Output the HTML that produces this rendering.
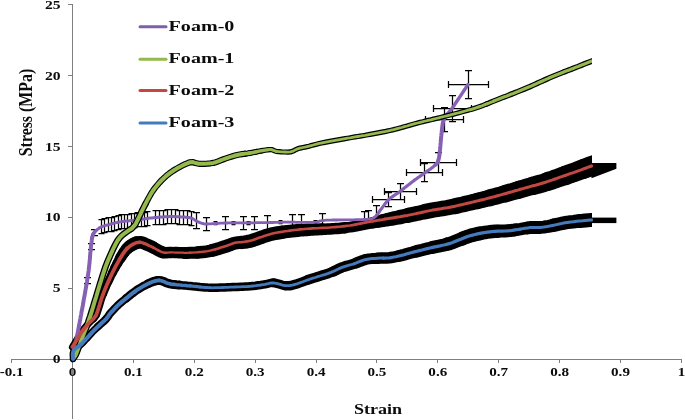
<!DOCTYPE html>
<html><head><meta charset="utf-8"><title>Stress-Strain</title>
<style>html,body{margin:0;padding:0;background:#fff;width:685px;height:420px;overflow:hidden}</style>
</head><body>
<svg width="685" height="420" viewBox="0 0 685 420" style="position:absolute;left:0;top:0;display:block">
<rect width="685" height="420" fill="#fff"/>
<g stroke="#7f7f7f" stroke-width="1" fill="none" shape-rendering="crispEdges">
<line x1="11" y1="359.5" x2="682" y2="359.5"/>
<line x1="72.5" y1="4" x2="72.5" y2="418.5"/>
<line x1="11.5" y1="359" x2="11.5" y2="362.6"/>
<line x1="72.5" y1="359" x2="72.5" y2="362.6"/>
<line x1="133.5" y1="359" x2="133.5" y2="362.6"/>
<line x1="194.5" y1="359" x2="194.5" y2="362.6"/>
<line x1="255.5" y1="359" x2="255.5" y2="362.6"/>
<line x1="316.5" y1="359" x2="316.5" y2="362.6"/>
<line x1="376.5" y1="359" x2="376.5" y2="362.6"/>
<line x1="437.5" y1="359" x2="437.5" y2="362.6"/>
<line x1="498.5" y1="359" x2="498.5" y2="362.6"/>
<line x1="559.5" y1="359" x2="559.5" y2="362.6"/>
<line x1="620.5" y1="359" x2="620.5" y2="362.6"/>
<line x1="681.5" y1="359" x2="681.5" y2="362.6"/>
<line x1="68" y1="359.5" x2="72.5" y2="359.5"/>
<line x1="68" y1="288.5" x2="72.5" y2="288.5"/>
<line x1="68" y1="217.5" x2="72.5" y2="217.5"/>
<line x1="68" y1="146.5" x2="72.5" y2="146.5"/>
<line x1="68" y1="75.5" x2="72.5" y2="75.5"/>
<line x1="68" y1="4.5" x2="72.5" y2="4.5"/>
</g>
<g font-family="'Liberation Serif', serif" font-weight="bold" fill="#0c0c0c">
<text transform="translate(11.6,376) scale(1.2,1)" font-size="12.6" text-anchor="middle">-0.1</text>
<text transform="translate(72.5,376) scale(1.2,1)" font-size="12.6" text-anchor="middle">0</text>
<text transform="translate(133.4,376) scale(1.2,1)" font-size="12.6" text-anchor="middle">0.1</text>
<text transform="translate(194.3,376) scale(1.2,1)" font-size="12.6" text-anchor="middle">0.2</text>
<text transform="translate(255.2,376) scale(1.2,1)" font-size="12.6" text-anchor="middle">0.3</text>
<text transform="translate(316.1,376) scale(1.2,1)" font-size="12.6" text-anchor="middle">0.4</text>
<text transform="translate(376.9,376) scale(1.2,1)" font-size="12.6" text-anchor="middle">0.5</text>
<text transform="translate(437.8,376) scale(1.2,1)" font-size="12.6" text-anchor="middle">0.6</text>
<text transform="translate(498.7,376) scale(1.2,1)" font-size="12.6" text-anchor="middle">0.7</text>
<text transform="translate(559.6,376) scale(1.2,1)" font-size="12.6" text-anchor="middle">0.8</text>
<text transform="translate(620.5,376) scale(1.2,1)" font-size="12.6" text-anchor="middle">0.9</text>
<text transform="translate(681.4,376) scale(1.2,1)" font-size="12.6" text-anchor="middle">1</text>
<text transform="translate(60.6,363.1) scale(1.24,1)" font-size="12.6" text-anchor="end">0</text>
<text transform="translate(60.6,292.2) scale(1.24,1)" font-size="12.6" text-anchor="end">5</text>
<text transform="translate(60.6,221.4) scale(1.24,1)" font-size="12.6" text-anchor="end">10</text>
<text transform="translate(60.6,150.5) scale(1.24,1)" font-size="12.6" text-anchor="end">15</text>
<text transform="translate(60.6,79.7) scale(1.24,1)" font-size="12.6" text-anchor="end">20</text>
<text transform="translate(60.6,8.8) scale(1.24,1)" font-size="12.6" text-anchor="end">25</text>
<text transform="translate(378.1,413.8) scale(1.29,1)" font-size="14" text-anchor="middle">Strain</text>
<text transform="translate(32.2,112.5) rotate(-90) scale(1.06,1.28)" font-size="15" text-anchor="middle">Stress (MPa)</text>
<line x1="140" y1="26.8" x2="166" y2="26.8" stroke="#7D60A8" stroke-width="3" stroke-linecap="round"/>
<text transform="translate(168.6,31.1) scale(1.34,1)" font-size="15">Foam-0</text>
<line x1="140" y1="59.2" x2="166" y2="59.2" stroke="#94B94C" stroke-width="3" stroke-linecap="round"/>
<text transform="translate(168.6,63.1) scale(1.34,1)" font-size="15">Foam-1</text>
<line x1="140" y1="90.5" x2="166" y2="90.5" stroke="#C34842" stroke-width="3" stroke-linecap="round"/>
<text transform="translate(168.6,94.5) scale(1.34,1)" font-size="15">Foam-2</text>
<line x1="140" y1="123.0" x2="166" y2="123.0" stroke="#457BBC" stroke-width="3" stroke-linecap="round"/>
<text transform="translate(168.6,127.1) scale(1.34,1)" font-size="15">Foam-3</text>
</g>
<clipPath id="ce"><rect x="0" y="0" width="592" height="420"/></clipPath>
<g fill="none" stroke-linejoin="round" stroke-linecap="round" stroke="#000" clip-path="url(#ce)"><polyline points="72.4,347.0 73.4,345.4 74.7,343.3 76.3,340.7 78.0,337.9 79.7,335.1 81.3,332.6 82.7,330.5 84.8,327.7 86.8,325.4 88.5,323.6 90.0,322.0 93.6,318.6" stroke-width="7.0"/><polyline points="93.6,318.6 96.3,315.0 96.9,313.2 97.7,310.9 98.5,308.3 99.4,305.5 100.3,302.5 101.2,299.5 102.2,296.6 103.2,293.8" stroke-width="7.5"/><polyline points="103.2,293.8 104.1,291.4 105.1,289.1 106.1,286.7 107.1,284.3 108.2,281.9" stroke-width="8.0"/><polyline points="108.2,281.9 109.2,279.6 110.3,277.3 111.3,275.1 112.3,273.0" stroke-width="8.5"/><polyline points="112.3,273.0 113.6,270.4 114.9,267.9" stroke-width="9.0"/><polyline points="114.9,267.9 116.2,265.4 117.5,263.1" stroke-width="9.5"/><polyline points="117.5,263.1 118.7,260.9 119.9,258.8" stroke-width="10.0"/><polyline points="119.9,258.8 121.0,257.0" stroke-width="10.5"/><polyline points="121.0,257.0 122.7,254.3 124.2,252.1" stroke-width="11.0"/><polyline points="124.2,252.1 125.6,250.2 127.0,248.6" stroke-width="11.5"/><polyline points="127.0,248.6 129.9,246.1" stroke-width="12.0"/><polyline points="129.9,246.1 133.0,244.3" stroke-width="12.5"/><polyline points="133.0,244.3 136.2,242.7" stroke-width="13.0"/><polyline points="136.2,242.7 140.0,242.2 142.3,242.7 144.9,243.7 147.7,244.9 150.5,246.2 153.0,247.4" stroke-width="12.5"/><polyline points="153.0,247.4 155.6,248.9 158.3,250.3 160.8,251.6 163.0,252.5" stroke-width="12.0"/><polyline points="163.0,252.5 166.0,252.8 170.0,252.4 171.9,252.4" stroke-width="11.5"/><polyline points="171.9,252.4 174.1,252.5" stroke-width="11.0"/><polyline points="174.1,252.5 176.5,252.6 179.2,252.7 181.9,252.8 184.7,252.9" stroke-width="11.5"/><polyline points="184.7,252.9 187.4,252.9 190.0,252.8 192.5,252.8 195.0,252.7 197.5,252.5" stroke-width="12.0"/><polyline points="197.5,252.5 200.0,252.3 202.5,252.1 205.0,251.8 207.5,251.4 210.0,250.9 212.6,250.3" stroke-width="12.5"/><polyline points="212.6,250.3 215.4,249.6 218.2,248.8 220.9,247.9 223.6,247.0 226.1,246.2 228.2,245.5 230.0,244.9 232.8,243.8 235.0,243.1 236.9,242.8 239.1,242.6 241.6,242.4" stroke-width="13.0"/><polyline points="241.6,242.4 244.3,242.1 247.1,241.7 250.0,241.1 252.3,240.5 254.6,239.7 257.1,238.8 259.7,237.9 262.3,237.0 264.9,236.0 267.5,235.2 270.0,234.5 272.5,233.9 275.0,233.4 277.5,233.0 280.0,232.6 282.5,232.2" stroke-width="13.5"/><polyline points="282.5,232.2 285.0,231.8 287.5,231.5 290.0,231.2 292.5,230.9 295.0,230.7 297.5,230.5" stroke-width="13.0"/><polyline points="297.5,230.5 300.0,230.3 302.5,230.2 305.0,230.0 307.5,229.9" stroke-width="12.5"/><polyline points="307.5,229.9 310.0,229.8 312.5,229.7 315.0,229.5 317.5,229.4 320.0,229.3 322.5,229.3" stroke-width="12.0"/><polyline points="322.5,229.3 325.0,229.2 327.5,229.0 330.0,228.9 332.5,228.7 335.0,228.6 337.5,228.4 340.0,228.2 342.5,227.9 345.0,227.7" stroke-width="11.5"/><polyline points="345.0,227.7 347.5,227.4 350.0,227.1 352.5,226.7 355.0,226.3 357.5,225.8 360.0,225.3 362.5,224.8 365.0,224.3 367.5,223.8 370.0,223.3 372.5,222.8" stroke-width="11.0"/><polyline points="372.5,222.8 375.0,222.3 377.5,221.8" stroke-width="11.5"/><polyline points="377.5,221.8 380.0,221.2" stroke-width="12.0"/><polyline points="380.0,221.2 382.5,220.7" stroke-width="12.5"/><polyline points="382.5,220.7 385.0,220.2 387.5,219.6" stroke-width="13.0"/><polyline points="387.5,219.6 390.0,219.1 392.5,218.6" stroke-width="13.5"/><polyline points="392.5,218.6 395.0,218.1 397.5,217.6 400.0,217.1" stroke-width="14.0"/><polyline points="400.0,217.1 402.5,216.5 405.0,216.0 407.5,215.5" stroke-width="14.5"/><polyline points="407.5,215.5 410.0,214.9 412.5,214.4 415.0,213.9 417.5,213.3 420.0,212.8 422.5,212.2 425.0,211.6" stroke-width="15.0"/><polyline points="425.0,211.6 427.5,211.1 430.0,210.6 432.5,210.1 435.0,209.7 437.5,209.3 440.0,208.9 442.5,208.5 445.0,208.1 447.5,207.7 450.0,207.2 452.5,206.7 455.0,206.2" stroke-width="15.5"/><polyline points="455.0,206.2 457.5,205.6 460.0,205.0 462.5,204.5 465.0,203.9 467.5,203.3 470.0,202.7 472.5,202.1 475.0,201.5 477.5,200.9" stroke-width="16.0"/><polyline points="477.5,200.9 480.0,200.3 482.5,199.7 485.0,199.1 487.5,198.4 490.0,197.8" stroke-width="16.5"/><polyline points="490.0,197.8 492.5,197.1 495.0,196.5 497.5,195.8 500.0,195.1 502.5,194.4 505.0,193.7" stroke-width="17.0"/><polyline points="505.0,193.7 507.5,193.0 510.0,192.3 512.5,191.6 515.1,190.8 517.8,190.1" stroke-width="17.5"/><polyline points="517.8,190.1 520.4,189.3 523.0,188.6 525.4,187.9 527.8,187.2 530.0,186.6 533.0,185.8" stroke-width="18.0"/><polyline points="533.0,185.8 535.5,185.2 537.9,184.5 540.5,183.8 543.8,182.8 545.8,182.2 547.9,181.4" stroke-width="18.5"/><polyline points="547.9,181.4 550.2,180.7 552.6,179.9 555.1,179.0 557.6,178.1 560.1,177.2 562.7,176.3 565.2,175.5" stroke-width="19.0"/><polyline points="565.2,175.5 567.6,174.6 570.1,173.7 572.8,172.8 575.5,171.8 578.3,170.8 581.1,169.8 583.7,168.8" stroke-width="19.5"/><polyline points="583.7,168.8 586.2,168.0 588.3,167.2 590.2,166.5 591.6,166.0 600.0,163.0" stroke-width="20.0"/></g>
<polygon points="590,162.9 616.4,162.9 616.4,168.8 591.5,178.3" fill="#000"/>
<g fill="none" stroke-linejoin="round" stroke-linecap="round" stroke="#000" clip-path="url(#ce)"><polyline points="73.0,359.0 72.9,356.7 72.8,353.5 73.6,350.5 75.0,348.8" stroke-width="6.5"/><polyline points="75.0,348.8 77.0,347.3 79.4,345.7 81.9,343.6 83.4,342.0 85.0,340.3 86.7,338.3" stroke-width="7.0"/><polyline points="86.7,338.3 88.5,336.3 90.3,334.3 92.1,332.3 93.8,330.5 95.9,328.5 98.1,326.4" stroke-width="7.5"/><polyline points="98.1,326.4 100.3,324.4 102.3,322.6 104.2,320.9 105.7,319.4 107.9,316.7 109.3,314.6 111.0,312.5 113.1,310.3 115.2,308.0 117.2,306.0 119.4,303.9 122.4,301.4 124.1,300.0 126.1,298.4" stroke-width="8.0"/><polyline points="126.1,298.4 128.2,296.7 130.4,294.9 132.6,293.2 134.8,291.6 136.7,290.2 139.2,288.6 141.7,287.1 144.0,285.8 146.1,284.8 148.0,283.8" stroke-width="8.5"/><polyline points="148.0,283.8 151.4,282.2 154.0,281.3 156.6,280.6 159.0,280.4 161.4,280.8 164.0,281.6 166.1,282.7 170.0,283.9 171.8,284.2 174.0,284.4 176.5,284.7 179.1,284.9" stroke-width="9.0"/><polyline points="179.1,284.9 181.9,285.2 184.7,285.4 187.4,285.7 190.0,285.9 192.5,286.2 195.0,286.4 197.5,286.7 200.0,287.0 202.5,287.2 205.0,287.4 207.5,287.6 210.0,287.7 212.5,287.8 215.0,287.7 217.5,287.7 220.0,287.6 222.5,287.5 225.0,287.4 227.5,287.3 230.0,287.2 232.5,287.1 235.1,287.0 237.7,286.9 240.3,286.8 242.9,286.7 245.4,286.6 247.7,286.5 250.0,286.3 252.9,286.0 255.6,285.7 258.2,285.3 260.7,285.0 262.9,284.6 265.0,284.3 268.1,283.6 270.5,283.0 273.3,282.8" stroke-width="8.5"/><polyline points="273.3,282.8 276.2,283.3 279.4,284.2 282.5,285.1 285.0,285.7" stroke-width="9.0"/><polyline points="285.0,285.7 289.5,285.7 292.3,285.2 296.0,284.2 298.0,283.5 300.4,282.6 302.9,281.7 305.5,280.7 308.0,279.8" stroke-width="9.5"/><polyline points="308.0,279.8 310.4,279.0 312.8,278.2 315.3,277.5 317.7,276.7 320.0,276.0 322.8,275.1 325.6,274.3 328.3,273.4 331.0,272.4 333.7,271.2" stroke-width="10.0"/><polyline points="333.7,271.2 336.4,269.9 339.2,268.6 342.0,267.4 344.3,266.6 346.7,265.9 349.2,265.2 351.6,264.5 354.0,263.8 356.4,262.9" stroke-width="10.5"/><polyline points="356.4,262.9 358.8,261.9 361.2,261.0 363.6,260.1 366.0,259.4 368.9,258.9 371.8,258.6 374.7,258.4 377.6,258.2" stroke-width="11.0"/><polyline points="377.6,258.2 380.6,258.1 383.5,258.1 386.5,258.0 389.5,257.8 392.6,257.3 395.7,256.7 398.7,256.0" stroke-width="11.5"/><polyline points="398.7,256.0 401.4,255.4 404.1,254.7 406.4,254.0 410.0,253.0 412.0,252.5 414.2,251.9 416.7,251.3" stroke-width="12.0"/><polyline points="416.7,251.3 419.3,250.6 422.0,250.0 424.7,249.3 427.4,248.6 430.0,248.0 432.5,247.4" stroke-width="12.5"/><polyline points="432.5,247.4 435.0,246.9 437.5,246.4 440.0,245.9 442.5,245.3 445.0,244.8 447.5,244.1" stroke-width="13.0"/><polyline points="447.5,244.1 450.0,243.4 452.5,242.6 455.0,241.6 457.5,240.6 460.0,239.6 462.5,238.5" stroke-width="13.5"/><polyline points="462.5,238.5 465.0,237.5 467.5,236.6 470.0,235.8 472.5,235.1 475.0,234.5 477.5,233.9 480.0,233.4" stroke-width="14.0"/><polyline points="480.0,233.4 482.5,232.9 485.0,232.5 487.5,232.1 490.0,231.8 492.5,231.5 495.0,231.3 497.5,231.2" stroke-width="13.5"/><polyline points="497.5,231.2 500.0,231.1 502.5,231.1 505.0,231.0 507.5,230.8 510.0,230.6 512.5,230.3 515.1,229.9" stroke-width="13.0"/><polyline points="515.1,229.9 517.8,229.5 520.4,229.1 523.0,228.6 525.4,228.2 527.8,227.9" stroke-width="12.5"/><polyline points="527.8,227.9 530.0,227.6 533.0,227.4 535.5,227.4 537.9,227.5 540.5,227.4 543.8,227.1 546.0,226.7 548.4,226.3 551.0,225.8 553.7,225.2" stroke-width="13.0"/><polyline points="553.7,225.2 556.5,224.6 559.3,224.0 562.1,223.4 564.9,222.8 567.6,222.4 570.4,222.0 573.4,221.7 576.5,221.3 579.6,221.0" stroke-width="13.5"/><polyline points="579.6,221.0 582.6,220.8 585.4,220.5 587.9,220.3 590.0,220.1 591.6,220.0 600.0,219.0" stroke-width="14.0"/></g>
<rect x="590" y="217.6" width="26.4" height="5.5" fill="#000"/>
<path d="M468.5,70.0V99.0M465.0,70.5h7M465.0,98.5h7M448.0,84.5H489.0M448.5,81.0v7M488.5,81.0v7M452.5,95.0V122.0M449.0,95.5h7M449.0,121.5h7M433.0,108.5H472.0M433.5,105.0v7M471.5,105.0v7M444.5,107.0V132.0M441.0,107.5h7M441.0,131.5h7M425.0,119.5H464.0M425.5,116.0v7M463.5,116.0v7M438.5,152.0V173.0M435.0,152.5h7M435.0,172.5h7M420.0,162.5H457.0M420.5,159.0v7M456.5,159.0v7M424.5,163.0V182.0M421.0,163.5h7M421.0,181.5h7M406.0,172.5H443.0M406.5,169.0v7M442.5,169.0v7M400.5,183.0V200.0M397.0,183.5h7M397.0,199.5h7M384.0,191.5H417.0M384.5,188.0v7M416.5,188.0v7M388.5,192.0V207.0M385.0,192.5h7M385.0,206.5h7M372.0,199.5H405.0M372.5,196.0v7M404.5,196.0v7M101.5,219.0V234.0M98.5,219.5h6.0M98.5,233.5h6.0M104.5,218.0V233.0M101.5,218.5h6.0M101.5,232.5h6.0M108.5,217.0V232.0M105.5,217.5h6.0M105.5,231.5h6.0M111.5,217.0V232.0M108.5,217.5h6.0M108.5,231.5h6.0M114.5,216.0V231.0M111.5,216.5h6.0M111.5,230.5h6.0M118.5,215.0V230.0M115.5,215.5h6.0M115.5,229.5h6.0M121.5,214.0V229.0M118.5,214.5h6.0M118.5,228.5h6.0M124.5,214.0V229.0M121.5,214.5h6.0M121.5,228.5h6.0M127.5,214.0V229.0M124.5,214.5h6.0M124.5,228.5h6.0M131.5,213.0V228.0M128.5,213.5h6.0M128.5,227.5h6.0M134.5,213.0V228.0M131.5,213.5h6.0M131.5,227.5h6.0M137.5,212.0V227.0M134.5,212.5h6.0M134.5,226.5h6.0M141.5,212.0V227.0M138.5,212.5h6.0M138.5,226.5h6.0M144.5,212.0V227.0M141.5,212.5h6.0M141.5,226.5h6.0M147.5,211.0V226.0M144.5,211.5h6.0M144.5,225.5h6.0M155.5,210.0V225.0M152.5,210.5h6.0M152.5,224.5h6.0M159.5,210.0V225.0M156.5,210.5h6.0M156.5,224.5h6.0M163.5,210.0V225.0M160.5,210.5h6.0M160.5,224.5h6.0M167.5,209.0V224.0M164.5,209.5h6.0M164.5,223.5h6.0M171.5,209.0V224.0M168.5,209.5h6.0M168.5,223.5h6.0M175.5,209.0V224.0M172.5,209.5h6.0M172.5,223.5h6.0M179.5,210.0V225.0M176.5,210.5h6.0M176.5,224.5h6.0M183.5,210.0V225.0M180.5,210.5h6.0M180.5,224.5h6.0M187.5,210.0V225.0M184.5,210.5h6.0M184.5,224.5h6.0M191.5,211.0V226.0M188.5,211.5h6.0M188.5,225.5h6.0M94.5,229.0V236.0M91.0,229.5h7M91.0,235.5h7M91.5,243.0V250.0M88.0,243.5h7M88.0,249.5h7M87.5,277.0V284.0M84.0,277.5h7M84.0,283.5h7M196.5,212.0V229.0M193.0,212.5h7M193.0,228.5h7M206.5,217.0V231.0M203.0,217.5h7M203.0,230.5h7M225.5,216.0V230.0M222.0,216.5h7M222.0,229.5h7M243.5,216.0V230.0M240.0,216.5h7M240.0,229.5h7M254.5,216.0V230.0M251.0,216.5h7M251.0,229.5h7M267.5,215.0V230.0M264.0,215.5h7M264.0,229.5h7M292.5,214.0V230.0M289.0,214.5h7M289.0,229.5h7M301.5,214.0V230.0M298.0,214.5h7M298.0,229.5h7M322.5,213.0V228.0M319.0,213.5h7M319.0,227.5h7M364.5,211.0V228.0M361.0,211.5h7M361.0,227.5h7M368.5,210.0V227.0M365.0,210.5h7M365.0,226.5h7M376.5,205.0V224.0M373.0,205.5h7M373.0,223.5h7M215.5,221.0V225.0M213.5,221.5h4.0M213.5,224.5h4.0M233.5,221.0V225.0M231.5,221.5h4.0M231.5,224.5h4.0M248.5,221.0V225.0M246.5,221.5h4.0M246.5,224.5h4.0M280.5,220.0V224.0M278.5,220.5h4.0M278.5,223.5h4.0M315.5,220.0V224.0M313.5,220.5h4.0M313.5,223.5h4.0" stroke="#000" stroke-width="1.25" fill="none"/>
<g fill="none" stroke-linejoin="round" stroke-linecap="round" stroke="#8560B4"><polyline points="73.0,357.0 73.2,356.2 73.3,355.3 73.5,354.3 73.7,353.3 74.0,352.1 74.2,350.9 74.5,349.6 74.7,348.2 75.0,346.7 75.3,345.2 75.6,343.7 75.9,342.1 76.2,340.5 76.5,338.8 76.9,337.2 77.2,335.4 77.5,333.7 77.9,332.0 78.2,330.2 78.5,328.5 78.8,326.8 79.2,325.0 79.5,323.3 79.8,321.7 80.1,320.0 80.4,318.6 80.6,317.2 80.9,315.7 81.2,314.3 81.4,312.8 81.7,311.2 82.0,309.7 82.3,308.1 82.6,306.6 82.9,305.0 83.2,303.4 83.4,301.8 83.7,300.2 84.0,298.5 84.3,296.9 84.6,295.3 84.9,293.7 85.2,292.2 85.4,290.6 85.7,289.0 86.0,287.5 86.2,286.0 86.5,284.5 86.7,283.0 87.0,281.6 87.2,280.2 87.4,278.8 87.6,277.5 87.8,276.2 88.0,275.0 88.3,273.0 88.6,271.0 88.8,269.1 89.0,267.3 89.2,265.5 89.4,263.7 89.6,262.0 89.7,260.4 89.9,258.8 90.0,257.2 90.1,255.8 90.2,254.3 90.3,253.0 90.5,251.7 90.6,250.4 90.7,249.2 90.8,248.1 90.9,247.0 91.2,244.3 91.5,242.3 91.7,240.7 91.8,239.6 92.0,238.5 92.2,237.5" stroke-width="4.0"/><polyline points="92.2,237.5 92.7,235.1" stroke-width="3.8000000000000003"/><polyline points="92.7,235.1 93.4,233.6" stroke-width="3.6"/><polyline points="93.4,233.6 94.4,232.2" stroke-width="3.4000000000000004"/><polyline points="94.4,232.2 95.6,231.0" stroke-width="3.2"/><polyline points="95.6,231.0 97.0,229.8 98.6,228.6 99.6,227.6 102.5,226.4 103.5,226.1 104.6,225.8 105.9,225.4 107.3,225.0 108.8,224.6 110.4,224.1 112.0,223.7 113.7,223.3 115.3,222.9 116.9,222.5 118.5,222.2 120.0,221.9 121.6,221.6 123.2,221.4 124.8,221.2 126.4,221.0 128.0,220.9 129.5,220.8 131.1,220.6 132.7,220.5 134.3,220.3 135.9,220.2 137.5,220.0 139.1,219.8 140.7,219.6 142.3,219.3 143.9,219.1 145.4,218.8 147.0,218.6 148.6,218.3 150.2,218.1 151.8,217.9 153.4,217.7 155.0,217.5 156.6,217.4 158.2,217.2 159.8,217.1 161.4,217.0 163.0,216.9 164.6,216.8 166.2,216.7 167.8,216.7 169.4,216.6 171.0,216.6 172.6,216.6 174.2,216.6 175.9,216.7 177.6,216.7 179.4,216.8 181.1,216.9 182.8,217.0 184.4,217.1 186.0,217.3 187.5,217.4 188.8,217.6 190.0,217.8 192.0,218.4 193.5,219.1 194.6,219.9 195.7,220.6 197.0,221.3 198.2,221.8 199.4,222.4 200.6,222.9 202.0,223.3 203.7,223.7 205.8,223.9 207.0,223.9" stroke-width="3.0"/><polyline points="207.0,223.9 208.2,223.9 209.5,223.9 210.8,223.8 212.3,223.7 213.8,223.6 215.4,223.5 217.0,223.4 218.8,223.3 220.8,223.2 222.8,223.1 225.0,223.0 226.2,223.0 227.5,223.0 228.8,222.9 230.2,222.9 231.7,222.9 233.2,222.9 234.7,222.9 236.3,222.9 237.9,222.8 239.5,222.8 241.1,222.8 242.8,222.8 244.4,222.8 246.1,222.8 247.7,222.8 249.4,222.8 251.0,222.8 252.6,222.8 254.1,222.8 255.7,222.7 257.2,222.7 258.6,222.7 260.0,222.7 261.7,222.7 263.4,222.6 265.1,222.6 266.7,222.6 268.3,222.6 269.9,222.5 271.5,222.5 273.0,222.5 274.5,222.4 276.0,222.4 277.5,222.4 279.0,222.3 280.5,222.3 282.0,222.3 283.5,222.2 285.0,222.2 286.5,222.2 288.0,222.2 289.6,222.2 291.3,222.2 293.0,222.2 294.7,222.2 296.4,222.3 298.1,222.3 299.8,222.3 301.5,222.4 303.2,222.4 304.8,222.4 306.4,222.5 307.9,222.5 309.4,222.5 310.8,222.5 312.1,222.5 313.4,222.4 314.5,222.4 316.6,222.2 317.8,221.9 318.6,221.6 319.4,221.2 320.4,220.9 322.2,220.6 325.0,220.3 326.0,220.2 327.2,220.2 328.5,220.2 329.9,220.1 331.4,220.1 332.9,220.0 334.6,220.0 336.3,220.0 338.0,220.0 339.8,219.9 341.6,219.9 343.4,219.9 345.2,219.9 347.0,219.9 348.8,219.8 350.6,219.8 352.4,219.8 354.0,219.8 355.7,219.7 357.2,219.7 358.7,219.7 360.1,219.6 361.4,219.6 362.6,219.6 363.6,219.5 366.6,219.3 368.7,219.2 370.2,219.1" stroke-width="2.8000000000000003"/><polyline points="370.2,219.1 371.3,218.9 372.1,218.6 372.9,218.2 374.0,217.6 375.2,216.8 376.2,215.7 377.2,214.6" stroke-width="3.0"/><polyline points="377.2,214.6 378.1,213.3 379.0,212.0 380.0,210.6 381.0,209.3 381.9,208.1 382.8,206.9 383.7,205.7 384.6,204.4 385.6,203.1 386.6,201.9 387.7,200.6 388.8,199.5 389.9,198.5 391.0,197.6 392.2,196.8 393.5,195.9 394.7,195.1 396.0,194.2 397.3,193.4 398.7,192.5 400.0,191.5 401.2,190.6 402.5,189.6 403.7,188.6 405.0,187.6 406.3,186.5 407.6,185.5 408.9,184.5 410.2,183.5 411.4,182.5 412.7,181.5 414.0,180.6 415.2,179.6 416.5,178.7 417.7,177.8 419.0,177.0 420.2,176.1 421.5,175.2 422.7,174.4 423.9,173.5 425.0,172.7 426.4,171.7 427.9,170.7 429.3,169.7 430.7,168.8 432.0,167.8 433.2,166.9 434.3,165.9 435.3,165.0" stroke-width="3.2"/><polyline points="435.3,165.0 436.5,163.8" stroke-width="3.4000000000000004"/><polyline points="436.5,163.8 437.3,162.8" stroke-width="3.6"/><polyline points="437.3,162.8 437.9,161.8" stroke-width="3.8000000000000003"/><polyline points="437.9,161.8 438.4,160.2 439.0,157.6 439.2,156.5 439.4,155.3 439.6,153.9 439.7,152.4 439.9,150.8 440.1,149.2 440.2,147.5 440.4,145.7 440.5,144.0 440.7,142.2 440.8,140.5 441.0,138.8 441.1,137.2 441.3,135.7 441.4,134.3 441.6,133.0 441.8,131.0 442.0,129.1 442.2,127.4 442.4,125.8 442.6,124.4 442.8,123.0 443.1,121.6 443.5,120.3 444.0,119.0 444.6,117.7 445.3,116.6" stroke-width="4.0"/><polyline points="445.3,116.6 446.1,115.6 446.9,114.6" stroke-width="3.8000000000000003"/><polyline points="446.9,114.6 447.9,113.6 449.0,112.4" stroke-width="3.6"/><polyline points="449.0,112.4 450.2,110.9 451.6,109.0 452.3,108.0 453.0,106.9 453.9,105.7 454.8,104.4 455.7,103.0 456.7,101.5 457.7,100.0 458.7,98.5 459.8,96.9 460.8,95.4 461.8,93.9 462.8,92.4 463.7,91.0 464.6,89.6 465.5,88.4 466.2,87.2 466.9,86.2 467.5,85.3 468.0,84.6" stroke-width="3.4000000000000004"/></g>
<g fill="none" stroke-linejoin="round" stroke-linecap="round" stroke="#000" clip-path="url(#ce)"><polyline points="73.5,358.0 75.4,355.5 76.1,353.9 76.9,351.9 77.8,349.6 78.7,347.1 79.8,344.4 80.8,341.6 81.9,338.8 82.7,336.7 83.5,334.6 84.3,332.5 85.2,330.3 86.1,328.0 87.0,325.5 88.0,322.8 89.0,319.7 90.2,316.2 90.8,314.3 91.5,312.1 92.2,309.8 93.0,307.4 93.7,304.9 94.5,302.2 95.3,299.5 96.2,296.8 97.0,294.0 97.8,291.3 98.6,288.6 99.4,285.9 100.2,283.3 101.0,280.9 101.7,278.5 102.4,276.3 103.0,274.3 103.6,272.5 104.9,268.6 106.0,265.4 107.0,262.9 107.9,260.8 108.7,258.9 109.6,256.9 110.5,254.8 111.7,252.1 112.9,249.5 114.1,247.0 115.3,244.6 116.5,242.4 117.6,240.5 119.7,237.7 121.6,235.7 123.6,234.0 126.6,231.8 129.5,229.8 131.9,228.4 134.8,225.2" stroke-width="6.6000000000000005"/><polyline points="134.8,225.2 135.8,223.5 136.9,221.4 138.1,219.0 139.3,216.5 140.6,213.8 141.8,211.1 143.1,208.6 144.3,206.2 145.6,203.7" stroke-width="6.4"/><polyline points="145.6,203.7 146.9,201.2 148.2,198.7 149.6,196.3 150.9,193.9 152.3,191.7 153.8,189.5 155.4,187.4 157.0,185.4 158.7,183.4 160.5,181.5 162.2,179.7 164.0,178.0 165.7,176.4 168.1,174.4 170.5,172.6 172.8,171.0 175.2,169.5 177.6,168.1 180.1,166.7 182.8,165.3 185.3,164.1 187.7,163.1 189.5,162.3 193.0,162.1 195.3,163.0 199.0,163.8 201.4,163.8 204.2,163.8 207.4,163.6 210.5,163.3 213.3,162.9 215.8,162.2 218.2,161.4 220.6,160.4 222.9,159.5 225.2,158.6 228.2,157.6 231.1,156.7 234.1,155.8 237.1,155.0 239.6,154.5 242.2,154.1 244.9,153.7" stroke-width="6.2"/><polyline points="244.9,153.7 247.5,153.4 250.0,153.0" stroke-width="6.0"/><polyline points="250.0,153.0 253.1,152.4 256.2,151.8" stroke-width="5.800000000000001"/><polyline points="256.2,151.8 259.2,151.2 262.0,150.7" stroke-width="5.6000000000000005"/><polyline points="262.0,150.7 265.5,150.1 268.7,149.6" stroke-width="5.4"/><polyline points="268.7,149.6 271.4,149.5 273.5,150.3 276.2,151.4 278.6,151.6 281.6,151.9 284.8,152.0 287.9,152.1 290.5,151.9 293.2,151.1 295.2,149.9 297.6,148.8 300.1,148.1 303.0,147.5 306.0,146.9 309.0,146.2 311.2,145.6 313.3,145.0 315.6,144.4 318.2,143.7 321.4,143.0 323.5,142.6 325.9,142.1 328.5,141.6 331.1,141.1 333.9,140.6 336.8,140.1 339.6,139.6 342.4,139.1 345.2,138.6 347.6,138.2 350.1,137.8 352.6,137.3 355.1,136.9 357.6,136.5 360.1,136.1 362.6,135.7 365.1,135.3 367.6,134.8 370.0,134.4 372.7,133.9 375.4,133.4 378.0,132.9 380.6,132.4 383.3,131.9 385.9,131.4 388.5,130.8 391.2,130.2 393.8,129.6 396.4,128.9 399.1,128.2 401.7,127.5 404.4,126.7 407.0,126.0 409.7,125.2 412.3,124.4 415.0,123.7 417.6,123.0 420.2,122.3 422.9,121.7 425.5,121.0 428.2,120.4 430.8,119.8 433.5,119.1 436.1,118.5 438.8,117.9 441.4,117.2 444.1,116.5 446.9,115.8 449.7,115.1 452.5,114.4 455.2,113.7 457.9,113.0 460.5,112.3 463.0,111.6 465.2,111.0 468.1,110.2 470.5,109.6 472.6,109.0 474.7,108.3 477.1,107.5 480.0,106.5 482.0,105.8 484.2,104.9 486.5,104.0" stroke-width="5.2"/><polyline points="486.5,104.0 488.9,103.1 491.3,102.1 493.8,101.1 496.4,100.1 498.9,99.1 501.4,98.1 503.8,97.1 506.2,96.2 508.6,95.2 510.9,94.3" stroke-width="5.4"/><polyline points="510.9,94.3 513.3,93.4 515.7,92.4 518.1,91.5 520.5,90.5 522.8,89.6 525.2,88.6 527.6,87.6 530.0,86.6 532.4,85.5 534.7,84.5 537.1,83.4 539.5,82.3 541.9,81.2 544.3,80.1 546.6,79.1 549.0,78.0 551.4,77.0 553.8,76.0 556.3,75.0 558.8,74.0 561.3,73.0 563.7,72.0 566.2,71.1 568.6,70.2 570.9,69.3 573.1,68.4 575.2,67.6 578.1,66.5 581.0,65.3 583.8,64.2 586.3,63.2 588.6,62.3 590.5,61.6 592.0,61.0 600.0,57.8" stroke-width="5.6000000000000005"/></g>
<g fill="none" stroke-linejoin="round" stroke-linecap="round" stroke="#94B94C" clip-path="url(#ce)"><polyline points="73.5,358.0 75.4,355.5 76.1,353.9 76.9,351.9 77.8,349.6 78.7,347.1 79.8,344.4 80.8,341.6 81.9,338.8 82.7,336.7 83.5,334.6 84.3,332.5 85.2,330.3 86.1,328.0 87.0,325.5 88.0,322.8 89.0,319.7 90.2,316.2 90.8,314.3 91.5,312.1 92.2,309.8 93.0,307.4 93.7,304.9 94.5,302.2 95.3,299.5 96.2,296.8 97.0,294.0 97.8,291.3 98.6,288.6 99.4,285.9 100.2,283.3 101.0,280.9 101.7,278.5 102.4,276.3 103.0,274.3 103.6,272.5 104.9,268.6 106.0,265.4 107.0,262.9 107.9,260.8 108.7,258.9 109.6,256.9 110.5,254.8 111.7,252.1 112.9,249.5 114.1,247.0 115.3,244.6 116.5,242.4 117.6,240.5 119.7,237.7 121.6,235.7 123.6,234.0 126.6,231.8 129.5,229.8 131.9,228.4 134.8,225.2 135.8,223.5 136.9,221.4 138.1,219.0 139.3,216.5 140.6,213.8 141.8,211.1 143.1,208.6 144.3,206.2 145.6,203.7 146.9,201.2 148.2,198.7 149.6,196.3 150.9,193.9 152.3,191.7 153.8,189.5 155.4,187.4 157.0,185.4 158.7,183.4 160.5,181.5 162.2,179.7 164.0,178.0 165.7,176.4 168.1,174.4 170.5,172.6 172.8,171.0 175.2,169.5 177.6,168.1 180.1,166.7 182.8,165.3 185.3,164.1 187.7,163.1 189.5,162.3 193.0,162.1 195.3,163.0 199.0,163.8 201.4,163.8 204.2,163.8 207.4,163.6 210.5,163.3 213.3,162.9 215.8,162.2 218.2,161.4 220.6,160.4 222.9,159.5 225.2,158.6 228.2,157.6 231.1,156.7 234.1,155.8 237.1,155.0 239.6,154.5 242.2,154.1" stroke-width="4.0"/><polyline points="242.2,154.1 244.9,153.7 247.5,153.4 250.0,153.0" stroke-width="3.8000000000000003"/><polyline points="250.0,153.0 253.1,152.4 256.2,151.8" stroke-width="3.6"/><polyline points="256.2,151.8 259.2,151.2 262.0,150.7" stroke-width="3.4000000000000004"/><polyline points="262.0,150.7 265.5,150.1 268.7,149.6" stroke-width="3.2"/><polyline points="268.7,149.6 271.4,149.5 273.5,150.3 276.2,151.4" stroke-width="3.0"/><polyline points="276.2,151.4 278.6,151.6 281.6,151.9 284.8,152.0 287.9,152.1 290.5,151.9 293.2,151.1 295.2,149.9 297.6,148.8 300.1,148.1 303.0,147.5 306.0,146.9 309.0,146.2 311.2,145.6 313.3,145.0 315.6,144.4 318.2,143.7 321.4,143.0 323.5,142.6 325.9,142.1 328.5,141.6 331.1,141.1 333.9,140.6 336.8,140.1 339.6,139.6 342.4,139.1 345.2,138.6 347.6,138.2 350.1,137.8 352.6,137.3 355.1,136.9 357.6,136.5 360.1,136.1 362.6,135.7 365.1,135.3 367.6,134.8 370.0,134.4 372.7,133.9 375.4,133.4 378.0,132.9 380.6,132.4 383.3,131.9 385.9,131.4 388.5,130.8 391.2,130.2 393.8,129.6 396.4,128.9 399.1,128.2 401.7,127.5 404.4,126.7 407.0,126.0 409.7,125.2 412.3,124.4 415.0,123.7 417.6,123.0 420.2,122.3 422.9,121.7 425.5,121.0 428.2,120.4 430.8,119.8 433.5,119.1 436.1,118.5 438.8,117.9 441.4,117.2 444.1,116.5 446.9,115.8 449.7,115.1 452.5,114.4 455.2,113.7 457.9,113.0 460.5,112.3 463.0,111.6 465.2,111.0 468.1,110.2 470.5,109.6" stroke-width="2.8000000000000003"/><polyline points="470.5,109.6 472.6,109.0 474.7,108.3 477.1,107.5 480.0,106.5 482.0,105.8 484.2,104.9 486.5,104.0 488.9,103.1 491.3,102.1 493.8,101.1" stroke-width="3.0"/><polyline points="493.8,101.1 496.4,100.1 498.9,99.1 501.4,98.1 503.8,97.1 506.2,96.2 508.6,95.2 510.9,94.3 513.3,93.4 515.7,92.4 518.1,91.5 520.5,90.5 522.8,89.6 525.2,88.6 527.6,87.6 530.0,86.6 532.4,85.5 534.7,84.5 537.1,83.4 539.5,82.3 541.9,81.2 544.3,80.1 546.6,79.1 549.0,78.0 551.4,77.0 553.8,76.0 556.3,75.0 558.8,74.0 561.3,73.0 563.7,72.0 566.2,71.1 568.6,70.2 570.9,69.3 573.1,68.4 575.2,67.6 578.1,66.5 581.0,65.3 583.8,64.2 586.3,63.2 588.6,62.3 590.5,61.6 592.0,61.0 600.0,57.8" stroke-width="3.2"/></g>
<g fill="none" stroke-linejoin="round" stroke-linecap="round" stroke="#C34842"><polyline points="72.4,347.0 73.4,345.4 74.7,343.3 76.3,340.7 78.0,337.9 79.7,335.1 81.3,332.6 82.7,330.5 84.8,327.7 86.8,325.4 88.5,323.6 90.0,322.0 93.6,318.6 96.3,315.0 96.9,313.2 97.7,310.9 98.5,308.3 99.4,305.5 100.3,302.5 101.2,299.5 102.2,296.6 103.2,293.8 104.1,291.4 105.1,289.1 106.1,286.7 107.1,284.3 108.2,281.9 109.2,279.6 110.3,277.3 111.3,275.1 112.3,273.0 113.6,270.4 114.9,267.9 116.2,265.4 117.5,263.1 118.7,260.9 119.9,258.8 121.0,257.0 122.7,254.3 124.2,252.1 125.6,250.2 127.0,248.6" stroke-width="3.8000000000000003"/><polyline points="127.0,248.6 129.9,246.1 133.0,244.3" stroke-width="3.6"/><polyline points="133.0,244.3 136.2,242.7 140.0,242.2" stroke-width="3.4000000000000004"/><polyline points="140.0,242.2 142.3,242.7 144.9,243.7" stroke-width="3.2"/><polyline points="144.9,243.7 147.7,244.9" stroke-width="3.0"/><polyline points="147.7,244.9 150.5,246.2 153.0,247.4" stroke-width="2.8000000000000003"/><polyline points="153.0,247.4 155.6,248.9 158.3,250.3" stroke-width="2.6"/><polyline points="158.3,250.3 160.8,251.6 163.0,252.5 166.0,252.8" stroke-width="2.4000000000000004"/><polyline points="166.0,252.8 170.0,252.4 171.9,252.4 174.1,252.5 176.5,252.6 179.2,252.7 181.9,252.7 184.7,252.8 187.4,252.8 190.0,252.7" stroke-width="2.2"/><polyline points="190.0,252.7 192.5,252.6 195.0,252.4 197.5,252.3 200.0,252.0 202.5,251.8 205.0,251.5 207.5,251.1 210.0,250.6 212.6,250.0 215.4,249.3" stroke-width="2.4000000000000004"/><polyline points="215.4,249.3 218.2,248.5 220.9,247.6 223.6,246.7 226.1,245.9 228.2,245.2 230.0,244.6 232.8,243.5 235.0,242.8 236.9,242.5 239.1,242.3 241.6,242.1 244.3,241.8 247.1,241.4 250.0,240.8 252.3,240.2 254.6,239.4 257.1,238.5 259.7,237.6 262.3,236.7 264.9,235.7 267.5,234.9 270.0,234.2 272.5,233.6 275.0,233.1 277.5,232.6 280.0,232.1 282.5,231.7 285.0,231.3 287.5,231.0 290.0,230.6 292.5,230.3 295.0,230.0 297.5,229.7 300.0,229.4 302.5,229.2 305.0,229.0 307.5,228.8 310.0,228.6 312.5,228.4 315.0,228.3 317.5,228.2 320.0,228.0 322.5,227.9 325.0,227.8 327.5,227.7 330.0,227.5 332.5,227.3 335.0,227.1 337.5,226.9 340.0,226.7 342.5,226.4 345.0,226.1 347.5,225.8 350.0,225.5 352.5,225.1 355.0,224.7" stroke-width="2.6"/><polyline points="355.0,224.7 357.5,224.2 360.0,223.7 362.5,223.2 365.0,222.7 367.5,222.2 370.0,221.7 372.5,221.3 375.0,220.8 377.5,220.4 380.0,220.0 382.5,219.6 385.0,219.1" stroke-width="2.8000000000000003"/><polyline points="385.0,219.1 387.5,218.7 390.0,218.3 392.5,217.9 395.0,217.5 397.5,217.1 400.0,216.7 402.5,216.2 405.0,215.8 407.5,215.4 410.0,214.9 412.5,214.4 415.0,213.9 417.5,213.3 420.0,212.8 422.5,212.2 425.0,211.6 427.5,211.1 430.0,210.6 432.5,210.1 435.0,209.7 437.5,209.3 440.0,208.9 442.5,208.5 445.0,208.1 447.5,207.7 450.0,207.2 452.5,206.7 455.0,206.2 457.5,205.6 460.0,205.0 462.5,204.5 465.0,203.9 467.5,203.3 470.0,202.7 472.5,202.1 475.0,201.5 477.5,200.9 480.0,200.3 482.5,199.7 485.0,199.1 487.5,198.4 490.0,197.8 492.5,197.1 495.0,196.5 497.5,195.8 500.0,195.1 502.5,194.4 505.0,193.7 507.5,193.0 510.0,192.3 512.5,191.6 515.1,190.8 517.8,190.1 520.4,189.3 523.0,188.6 525.4,187.9 527.8,187.2 530.0,186.6 533.0,185.8 535.5,185.2 537.9,184.5 540.5,183.8 543.8,182.8 545.8,182.2 547.9,181.4 550.2,180.7 552.6,179.9 555.1,179.0 557.6,178.1 560.1,177.2 562.7,176.3 565.2,175.5 567.6,174.6 570.1,173.7 572.8,172.8 575.5,171.8 578.3,170.8 581.1,169.8 583.7,168.8 586.2,168.0 588.3,167.2 590.2,166.5 591.6,166.0" stroke-width="3.0"/></g>
<g fill="none" stroke-linejoin="round" stroke-linecap="round" stroke="#457BBC"><polyline points="73.0,359.0 72.9,356.7 72.8,353.5 73.6,350.5 75.0,348.8 77.0,347.3 79.4,345.7 81.9,343.6 83.4,342.0 85.0,340.3 86.7,338.3 88.5,336.3 90.3,334.3 92.1,332.3 93.8,330.5 95.9,328.5 98.1,326.4 100.3,324.4 102.3,322.6 104.2,320.9 105.7,319.4 107.9,316.7 109.3,314.6 111.0,312.5 113.1,310.3 115.2,308.0 117.2,306.0 119.4,303.9 122.4,301.4 124.1,300.0 126.1,298.4 128.2,296.7 130.4,294.9 132.6,293.2 134.8,291.6" stroke-width="4.0"/><polyline points="134.8,291.6 136.7,290.2 139.2,288.6 141.7,287.1 144.0,285.8 146.1,284.8 148.0,283.8 151.4,282.2 154.0,281.3 156.6,280.6 159.0,280.4" stroke-width="3.8000000000000003"/><polyline points="159.0,280.4 161.4,280.8 164.0,281.6 166.1,282.7 170.0,283.9 171.8,284.2 174.0,284.4" stroke-width="3.6"/><polyline points="174.0,284.4 176.5,284.7 179.1,284.9 181.9,285.2 184.7,285.4 187.4,285.7 190.0,285.9" stroke-width="3.4000000000000004"/><polyline points="190.0,285.9 192.5,286.2 195.0,286.4 197.5,286.7 200.0,287.0" stroke-width="3.2"/><polyline points="200.0,287.0 202.5,287.2 205.0,287.4 207.5,287.6 210.0,287.7" stroke-width="3.0"/><polyline points="210.0,287.7 212.5,287.8 215.0,287.7 217.5,287.7 220.0,287.6 222.5,287.5 225.0,287.4 227.5,287.3 230.0,287.2 232.5,287.1 235.1,287.0 237.7,286.9 240.3,286.8 242.9,286.7 245.4,286.6 247.7,286.5 250.0,286.3 252.9,286.0 255.6,285.7 258.2,285.3 260.7,285.0 262.9,284.6 265.0,284.3 268.1,283.6 270.5,283.0 273.3,282.8 276.2,283.3 279.4,284.2 282.5,285.1 285.0,285.7 289.5,285.7 292.3,285.2 296.0,284.2 298.0,283.5 300.4,282.6 302.9,281.7 305.5,280.7 308.0,279.8 310.4,279.0 312.8,278.2 315.3,277.5 317.7,276.7 320.0,276.0 322.8,275.1 325.6,274.3 328.3,273.4 331.0,272.4 333.7,271.2 336.4,269.9 339.2,268.6 342.0,267.4 344.3,266.6 346.7,265.9 349.2,265.2 351.6,264.5 354.0,263.8" stroke-width="2.8000000000000003"/><polyline points="354.0,263.8 356.4,262.9 358.8,261.9 361.2,261.0 363.6,260.1 366.0,259.4 368.9,258.9 371.8,258.6 374.7,258.4 377.6,258.2 380.6,258.1 383.5,258.1" stroke-width="3.0"/><polyline points="383.5,258.1 386.5,258.0 389.5,257.8 392.6,257.3 395.7,256.7 398.7,256.0 401.4,255.4 404.1,254.7 406.4,254.0 410.0,253.0 412.0,252.5 414.2,251.9 416.7,251.3 419.3,250.6 422.0,250.0 424.7,249.3 427.4,248.6 430.0,248.0 432.5,247.4 435.0,246.9 437.5,246.4 440.0,245.9 442.5,245.3 445.0,244.8 447.5,244.1 450.0,243.4 452.5,242.6 455.0,241.6 457.5,240.6 460.0,239.6 462.5,238.5 465.0,237.5 467.5,236.6 470.0,235.8 472.5,235.1 475.0,234.5 477.5,233.9 480.0,233.4 482.5,232.9 485.0,232.5 487.5,232.1 490.0,231.8 492.5,231.5 495.0,231.3 497.5,231.2 500.0,231.1 502.5,231.1 505.0,231.0 507.5,230.8 510.0,230.6 512.5,230.3 515.1,229.9 517.8,229.5 520.4,229.1" stroke-width="3.2"/><polyline points="520.4,229.1 523.0,228.6 525.4,228.2 527.8,227.9 530.0,227.6 533.0,227.4 535.5,227.4 537.9,227.5 540.5,227.4 543.8,227.1 546.0,226.7 548.4,226.3 551.0,225.8 553.7,225.2 556.5,224.6 559.3,224.0 562.1,223.4 564.9,222.8 567.6,222.4 570.4,222.0 573.4,221.7 576.5,221.3 579.6,221.0 582.6,220.8 585.4,220.5 587.9,220.3 590.0,220.1 591.6,220.0" stroke-width="3.0"/></g>
</svg>
</body></html>
